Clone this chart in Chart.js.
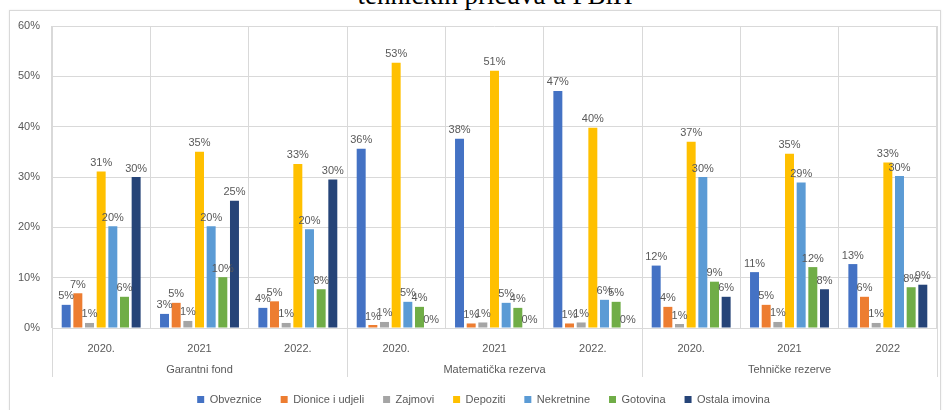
<!DOCTYPE html>
<html>
<head>
<meta charset="utf-8">
<script src="https://cdn.jsdelivr.net/npm/chart.js@4.4.1/dist/chart.umd.min.js"></script>
<style>
    body { margin: 0; background: #fff; width: 943px; height: 410px; overflow: hidden; position: relative; }
    #title { position: absolute; left: 0; width: 990px; top: -18px; text-align: center; font-family: 'Liberation Serif', serif; font-size: 27px; line-height: 26px; color: #000; }
    #frame { position: absolute; left: 9px; top: 10px; width: 930px; height: 420px; border: 1px solid #d9d9d9; box-shadow: 0 0 2px rgba(0,0,0,0.08); }
    #wrap { position: absolute; left: 0; top: 0; width: 943px; height: 410px; }
</style>
</head>
<body>
<div id="title">tehničkih pričuva u FBiH</div>
<div id="frame"></div>
<div id="wrap"><canvas id="chart"></canvas></div>
<script>
const years = ['2020.', '2021', '2022.', '2020.', '2021', '2022.', '2020.', '2021', '2022'];
const groups = ['Garantni fond', 'Matematička rezerva', 'Tehničke rezerve'];
const yTicks = [0, 10, 20, 30, 40, 50, 60];

// udjeli u %, po kategoriji (3 godine x 3 grupe)
const obveznice = [4.6, 2.8, 4.0, 35.6, 37.6, 47.1, 12.4, 11.1, 12.7];
const dionice = [6.9, 5.0, 5.3, 0.6, 0.9, 0.9, 4.2, 4.6, 6.2];
const zajmovi = [1.0, 1.4, 1.0, 1.2, 1.1, 1.1, 0.8, 1.2, 1.0];
const depoziti = [31.1, 35.0, 32.6, 52.7, 51.1, 39.8, 37.0, 34.6, 32.9];
const nekretnine = [20.2, 20.2, 19.6, 5.2, 5.0, 5.6, 30.0, 28.9, 30.2];
const gotovina = [6.2, 10.1, 7.7, 4.2, 4.0, 5.2, 9.2, 12.1, 8.1];
const ostala = [30.0, 25.3, 29.5, 0, 0, 0, 6.2, 7.7, 8.6];

const FONT = "'Liberation Sans', Arial, sans-serif";
const TXT = '#595959';
const GRID = '#d9d9d9';

const series = [
    { label: 'Obveznice', data: obveznice, color: '#4472c4' },
    { label: 'Dionice i udjeli', data: dionice, color: '#ed7d31' },
    { label: 'Zajmovi', data: zajmovi, color: '#a5a5a5' },
    { label: 'Depoziti', data: depoziti, color: '#ffc000' },
    { label: 'Nekretnine', data: nekretnine, color: '#5b9bd5' },
    { label: 'Gotovina', data: gotovina, color: '#70ad47' },
    { label: 'Ostala imovina', data: ostala, color: '#264478' }
];

// oznake vrijednosti iznad stupaca
const valueLabels = {
    id: 'valueLabels',
    afterDatasetsDraw(chart) {
        const ctx = chart.ctx;
        ctx.save();
        ctx.font = '11px ' + FONT;
        ctx.fillStyle = TXT;
        ctx.textAlign = 'center';
        ctx.textBaseline = 'bottom';
        chart.data.datasets.forEach((ds, i) => {
            chart.getDatasetMeta(i).data.forEach((bar, j) => {
                ctx.fillText(Math.round(ds.data[j]) + '%', bar.x, bar.y - 3);
            });
        });
        ctx.restore();
    }
};

// oznake y osi (scale ih inače reže na svoju širinu)
const yLabels = {
    id: 'yLabels',
    afterDraw(chart) {
        const y = chart.scales.y;
        const ctx = chart.ctx;
        ctx.save();
        ctx.font = '11px ' + FONT;
        ctx.fillStyle = TXT;
        ctx.textAlign = 'right';
        ctx.textBaseline = 'middle';
        yTicks.forEach(v => ctx.fillText(v + '%', y.right - 12, y.getPixelForValue(v)));
        ctx.restore();
    }
};

// grupe ispod godina + razdjelne linije
const groupAxis = {
    id: 'groupAxis',
    afterDraw(chart) {
        const x = chart.scales.x;
        const area = chart.chartArea;
        const ctx = chart.ctx;
        const n = years.length;
        const edge = i => {
            if (i <= 0) return area.left;
            if (i >= n) return area.right;
            return (x.getPixelForValue(i - 1) + x.getPixelForValue(i)) / 2;
        };
        ctx.save();
        ctx.strokeStyle = GRID;
        ctx.lineWidth = 1;
        for (let g = 0; g <= groups.length; g++) {
            const px = Math.round(edge(g * 3)) + 0.5;
            ctx.beginPath();
            ctx.moveTo(px, area.top);
            ctx.lineTo(px, area.bottom + 49);
            ctx.stroke();
        }
        ctx.font = '11px ' + FONT;
        ctx.fillStyle = TXT;
        ctx.textAlign = 'center';
        ctx.textBaseline = 'middle';
        groups.forEach((g, k) => {
            const cx = (edge(k * 3) + edge(k * 3 + 3)) / 2;
            ctx.fillText(g, cx, area.bottom + 42);
        });
        ctx.restore();
    }
};

new Chart(document.getElementById('chart'), {
    type: 'bar',
    data: {
        labels: years,
        datasets: series.map(s => ({
            label: s.label,
            data: s.data,
            backgroundColor: s.color,
            categoryPercentage: 0.83,
            barPercentage: 0.77
        }))
    },
    options: {
        responsive: true,
        maintainAspectRatio: false,
        animation: false,
        layout: { padding: { top: 26, right: 6, left: 30, bottom: -5 } },
        scales: {
            x: {
                grid: { color: GRID, offset: true, drawTicks: false },
                border: { color: GRID },
                ticks: { color: TXT, font: { family: FONT, size: 11 }, padding: 14, maxRotation: 0 },
                afterFit: scale => { scale.height = 47; }
            },
            y: {
                min: 0,
                max: 60,
                grid: { color: GRID, drawTicks: false },
                border: { display: false },
                afterBuildTicks: scale => { scale.ticks = yTicks.map(v => ({ value: v })); },
                ticks: { display: false },
                afterFit: scale => { scale.width = 22; }
            }
        },
        plugins: {
            legend: {
                position: 'bottom',
                labels: {
                    color: TXT,
                    font: { family: FONT, size: 11 },
                    boxWidth: 7,
                    boxHeight: 7,
                    padding: 19
                }
            },
            tooltip: { enabled: false }
        }
    },
    plugins: [valueLabels, yLabels, groupAxis]
});
</script>
</body>
</html>
